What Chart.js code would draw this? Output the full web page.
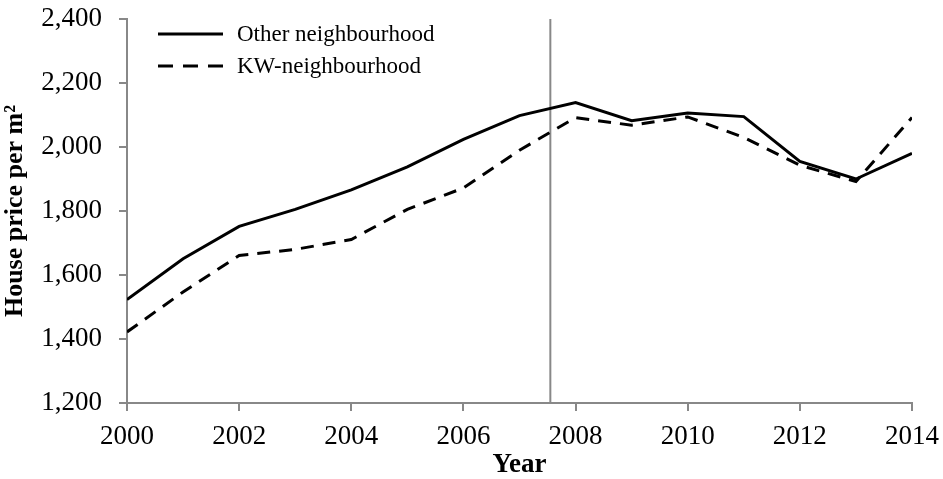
<!DOCTYPE html>
<html>
<head>
<meta charset="utf-8">
<script src="https://cdn.jsdelivr.net/npm/chart.js@4"></script>
<style>
  html, body { margin: 0; padding: 0; background: #fff; }
  #wrap { width: 943px; height: 479px; }
</style>
</head>
<body>
<div id="wrap"><canvas id="chart"></canvas></div>
<script>
const years = [2000, 2001, 2002, 2003, 2004, 2005, 2006, 2007, 2008, 2009, 2010, 2011, 2012, 2013, 2014];
const otherValues = [1523, 1651, 1752, 1805, 1866, 1938, 2024, 2098, 2139, 2082, 2106, 2095, 1955, 1900, 1980];
const kwValues = [1422, 1547, 1661, 1680, 1711, 1805, 1872, 1990, 2092, 2068, 2094, 2030, 1943, 1892, 2092];
const breakYear = 2007.55;
const yRange = [1200, 2400];

const font = "'Liberation Serif', 'Times New Roman', serif";

const toPoints = vals => vals.map((v, i) => ({ x: years[i], y: v }));

// legend drawn inside the plot, top left
const innerLegend = {
	id: 'innerLegend',
	afterDraw(chart) {
		const ctx = chart.ctx;
		const items = [
			{ text: 'Other neighbourhood', dash: [] },
			{ text: 'KW-neighbourhood', dash: [15, 10] }
		];
		ctx.save();
		ctx.font = "23px " + font;
		ctx.fillStyle = '#000';
		ctx.textBaseline = 'middle';
		items.forEach((it, i) => {
			const y = 34 + i * 32;
			ctx.beginPath();
			ctx.setLineDash(it.dash);
			ctx.lineWidth = 3;
			ctx.strokeStyle = '#000';
			ctx.moveTo(158, y);
			ctx.lineTo(223, y);
			ctx.stroke();
			ctx.fillText(it.text, 237, y + 1);
		});
		ctx.restore();
	}
};

new Chart(document.getElementById('chart'), {
	type: 'line',
	data: {
		datasets: [{
			label: 'Other neighbourhood',
			data: toPoints(otherValues),
			borderColor: '#000',
			borderWidth: 3,
			pointRadius: 0,
			tension: 0
		}, {
			label: 'KW-neighbourhood',
			data: toPoints(kwValues),
			borderColor: '#000',
			borderWidth: 3,
			borderDash: [13, 9],
			pointRadius: 0,
			tension: 0
		}, {
			label: 'break',
			data: [{ x: breakYear, y: yRange[0] }, { x: breakYear, y: yRange[1] }],
			borderColor: '#888',
			borderWidth: 2,
			pointRadius: 0
		}]
	},
	plugins: [innerLegend],
	options: {
		responsive: true,
		maintainAspectRatio: false,
		animation: false,
		devicePixelRatio: 1,
		layout: { padding: { top: 19, right: 31, left: 0, bottom: 0 } },
		plugins: {
			legend: { display: false },
			tooltip: { enabled: false }
		},
		scales: {
			x: {
				type: 'linear',
				min: years[0],
				max: years[years.length - 1],
				border: { color: '#888', width: 2 },
				grid: { drawOnChartArea: false, drawTicks: true, tickLength: 8, color: '#888', lineWidth: 2 },
				ticks: {
					stepSize: 2,
					color: '#000',
					padding: 10,
					maxRotation: 0,
					font: { family: font, size: 27 },
					callback: v => String(v)
				},
				title: {
					display: true,
					text: 'Year',
					color: '#000',
					padding: { top: 0, bottom: 0 },
					font: { family: font, size: 27, weight: 'bold', lineHeight: 1.0 }
				},
				afterFit(scale) {
					scale.height = 76;
					scale.paddingLeft = 0;
					scale.paddingRight = 0;
				}
			},
			y: {
				min: yRange[0],
				max: yRange[1],
				border: { color: '#888', width: 2 },
				grid: { drawOnChartArea: false, drawTicks: true, tickLength: 8, color: '#888', lineWidth: 2 },
				ticks: {
					stepSize: 200,
					color: '#000',
					padding: 17,
					font: { family: font, size: 27 }
				},
				title: {
					display: true,
					text: 'House price per m²',
					color: '#000',
					padding: { top: 0, bottom: 0 },
					font: { family: font, size: 26, weight: 'bold' }
				},
				afterFit(scale) {
					scale.width = 127;
					scale.paddingTop = 0;
					scale.paddingBottom = 0;
				}
			}
		}
	}
});
</script>
</body>
</html>
